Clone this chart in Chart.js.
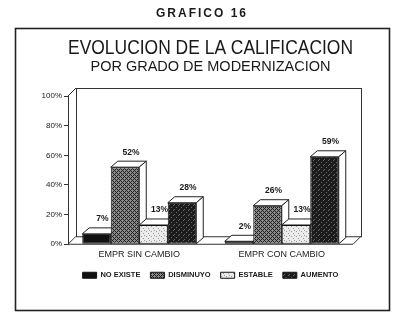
<!DOCTYPE html>
<html>
<head>
<meta charset="utf-8">
<script src="https://cdn.jsdelivr.net/npm/chart.js@4.4.1/dist/chart.umd.min.js"></script>
<style>
  html, body { margin: 0; padding: 0; background: #fff; }
  #caja { position: relative; width: 400px; height: 328px; }
  #grafico { position: absolute; left: 2px; top: 6px; width: 400px; text-align: center;
             font: bold 12px "Liberation Sans", Arial, sans-serif; letter-spacing: 2px; color: #1a1a1a; }
  canvas { position: absolute; left: 0; top: 0; }
</style>
</head>
<body>
<div id="caja">
  <canvas id="grafico16" width="400" height="328"></canvas>
  <div id="grafico">GRAFICO 16</div>
</div>
<script>
// datos
const categorias = ['EMPR SIN CAMBIO', 'EMPR CON CAMBIO'];
const noExiste = [7, 2];
const disminuyo = [52, 26];
const estable = [13, 13];
const aumento = [28, 59];
const ticksY = [0, 20, 40, 60, 80, 100];

const ctx = document.getElementById('grafico16').getContext('2d');
Chart.defaults.font.family = '"Liberation Sans", Arial, sans-serif';
Chart.defaults.color = '#1a1a1a';

// tramas tipo impresora
function trama(fondo, punto, celdas, tam) {
    const c = document.createElement('canvas');
    c.width = tam; c.height = tam;
    const g = c.getContext('2d');
    g.fillStyle = fondo; g.fillRect(0, 0, tam, tam);
    g.fillStyle = punto;
    celdas.forEach(p => g.fillRect(p[0], p[1], 1, 1));
    return ctx.createPattern(c, 'repeat');
}
const rayado = trama('#8a8a8a', '#1e1e1e', [[0,0],[1,1],[2,2],[3,3],[1,3],[3,1]], 4);
const claro = trama('#ececec', '#9a9a9a', [[1,1],[3,3],[4,0]], 5);
const oscuro = trama('#1c1c1c', '#6a6a6a', [[1,2],[3,0],[4,4]], 5);

const PARED = 8;   // profundidad del fondo
const DX = 7, DY = 6; // profundidad de las barras

// marco y fondo 3D
const marco = {
    id: 'marco',
    beforeDraw(chart) {
        const c = chart.ctx;
        c.save();
        c.fillStyle = '#fff';
        c.fillRect(0, 0, chart.width, chart.height);
        c.strokeStyle = '#222';
        c.lineWidth = 1.6;
        c.strokeRect(15.5, 28.5, 374, 282);
        c.restore();
    },
    beforeDatasetsDraw(chart) {
        const c = chart.ctx, a = chart.chartArea;
        c.save();
        c.strokeStyle = '#333';
        c.lineWidth = 1;
        c.strokeRect(a.left + PARED + 0.5, a.top - PARED + 0.5, a.right - a.left, a.bottom - a.top);
        c.beginPath();
        c.moveTo(a.left, a.top); c.lineTo(a.left + PARED, a.top - PARED);
        c.moveTo(a.left, a.bottom); c.lineTo(a.left + PARED, a.bottom - PARED);
        c.moveTo(a.left, a.bottom); c.lineTo(a.right, a.bottom);
        c.lineTo(a.right + PARED, a.bottom - PARED);
        c.stroke();

        // caras superior y lateral de cada barra
        c.fillStyle = '#fff';
        c.strokeStyle = '#222';
        for (let i = 0; i < categorias.length; i++) {
            for (let d = 0; d < chart.data.datasets.length; d++) {
                const b = chart.getDatasetMeta(d).data[i];
                const izq = b.x - b.width / 2, der = b.x + b.width / 2;
                c.beginPath();
                c.moveTo(izq, b.y); c.lineTo(izq + DX, b.y - DY);
                c.lineTo(der + DX, b.y - DY); c.lineTo(der, b.y);
                c.closePath(); c.fill(); c.stroke();
                c.beginPath();
                c.moveTo(der, b.y); c.lineTo(der + DX, b.y - DY);
                c.lineTo(der + DX, b.base - DY); c.lineTo(der, b.base);
                c.closePath(); c.fill(); c.stroke();
            }
        }
        c.restore();
    },
    afterDatasetsDraw(chart) {
        const c = chart.ctx;
        c.save();
        c.font = 'bold 8.5px "Liberation Sans", Arial, sans-serif';
        c.fillStyle = '#1a1a1a';
        c.textAlign = 'center';
        c.textBaseline = 'middle';
        chart.data.datasets.forEach((ds, d) => {
            chart.getDatasetMeta(d).data.forEach((b, i) => {
                c.fillText(ds.data[i] + '%', b.x + 6, b.y - 15);
            });
        });
        c.restore();
    }
};

new Chart(ctx, {
    type: 'bar',
    data: {
        labels: categorias,
        datasets: [
            { label: 'NO EXISTE', data: noExiste, backgroundColor: '#111' },
            { label: 'DISMINUYO', data: disminuyo, backgroundColor: rayado },
            { label: 'ESTABLE', data: estable, backgroundColor: claro },
            { label: 'AUMENTO', data: aumento, backgroundColor: oscuro }
        ]
    },
    options: {
        responsive: false,
        animation: false,
        devicePixelRatio: 1,
        datasets: {
            bar: { barPercentage: 1, categoryPercentage: 0.8, borderColor: '#111', borderWidth: 1, borderSkipped: false }
        },
        layout: { padding: { top: 39, left: 28, right: 47, bottom: 39 } },
        plugins: {
            title: {
                display: true, fullSize: false,
                text: 'EVOLUCION DE LA CALIFICACION',
                font: { size: 19.5, weight: 'normal', lineHeight: 1 },
                padding: { top: 0, bottom: 0 }
            },
            subtitle: {
                display: true, fullSize: false,
                text: 'POR GRADO DE MODERNIZACION',
                font: { size: 14.5, weight: 'normal', lineHeight: 1 },
                padding: { top: 1, bottom: 22 }
            },
            legend: {
                position: 'bottom', fullSize: false,
                labels: { boxWidth: 14, boxHeight: 6, padding: 10, font: { size: 7.5, weight: 'bold' } }
            },
            tooltip: { enabled: false }
        },
        scales: {
            x: {
                grid: { display: false, drawTicks: false },
                border: { display: false },
                ticks: { font: { size: 9 }, padding: 5 },
                afterFit: s => { s.height = 17.25; }
            },
            y: {
                min: 0, max: 100,
                grid: { drawOnChartArea: false, drawTicks: true, tickLength: 4, color: '#333' },
                border: { display: true, color: '#333', width: 1 },
                ticks: { font: { size: 8 }, padding: 2, callback: v => v + '%' },
                afterBuildTicks: s => { s.ticks = ticksY.map(v => ({ value: v })); },
                afterFit: s => { s.width = 40; }
            }
        }
    },
    plugins: [marco]
});
</script>
</body>
</html>
